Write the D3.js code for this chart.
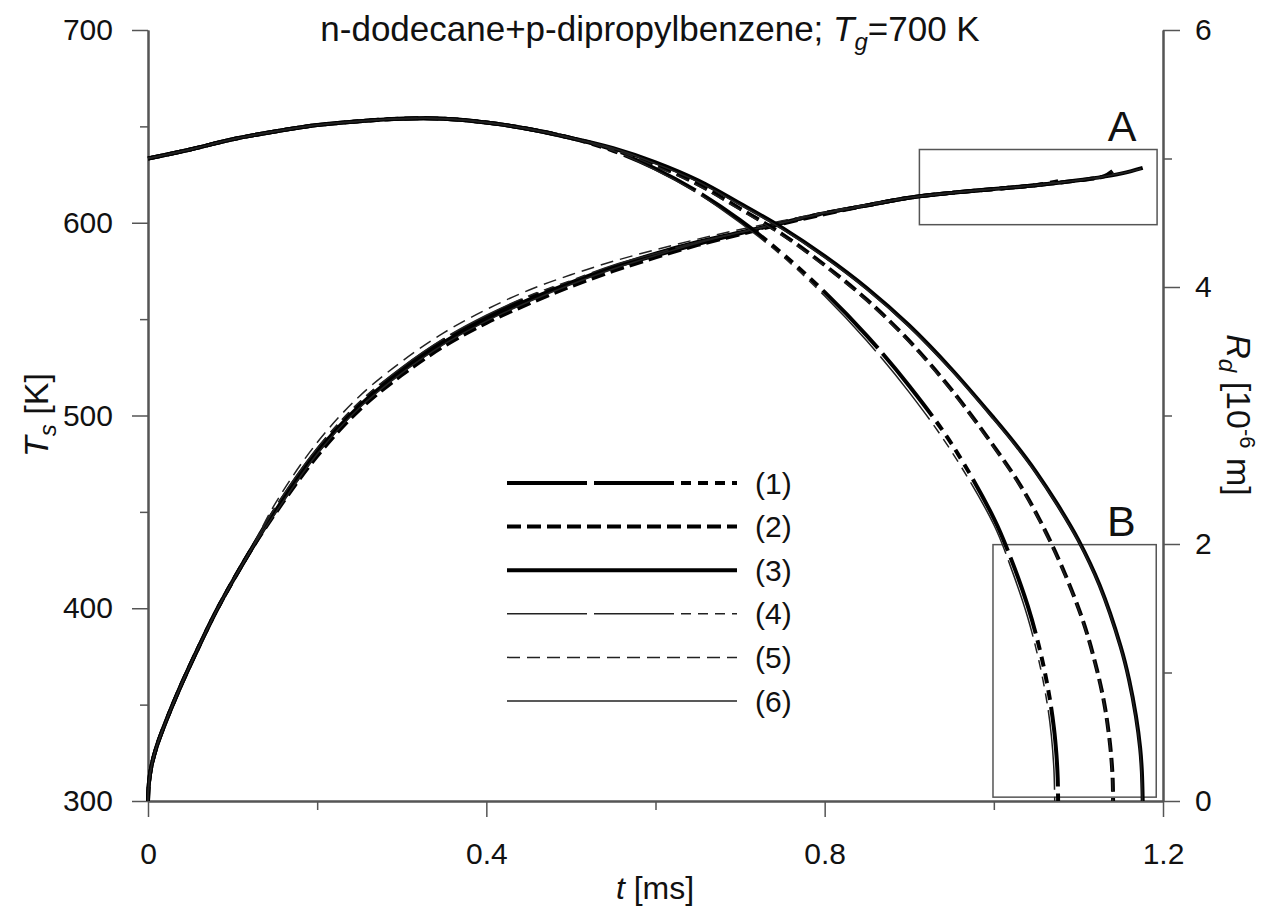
<!DOCTYPE html>
<meta charset="utf-8">
<style>
body { margin: 0; background: #fff; }
svg { font-family: "Liberation Sans", Arial, sans-serif; }
</style>
<svg width="1276" height="916"></svg>
<script src="https://d3js.org/d3.v7.min.js"></script>
<script>

// ---- data ----
// droplet radius R_d [1e-6 m] vs t [ms]; all six runs share the early part
var rHead = [[0,5.0],[0.05,5.07],[0.1,5.15],[0.15,5.21],[0.2,5.26],[0.25,5.29],[0.3,5.31],[0.35,5.31],[0.4,5.28],[0.45,5.23],[0.5,5.16]];
var rTail1 = [[0.55,5.06],[0.6,4.92],[0.65,4.74],[0.7,4.52],[0.75,4.26],[0.8,3.96],[0.85,3.62],[0.9,3.23],[0.95,2.78],[1.0,2.20],[1.02,1.89],[1.04,1.52],[1.055,1.16],[1.065,0.84],[1.071,0.57],[1.074,0.36],[1.0755,0.18],[1.076,0]];
var rTail2 = [[0.55,5.07],[0.6,4.95],[0.65,4.80],[0.7,4.61],[0.75,4.41],[0.8,4.17],[0.85,3.90],[0.9,3.58],[0.95,3.20],[1.0,2.76],[1.03,2.47],[1.054,2.19],[1.08,1.83],[1.105,1.41],[1.12,1.07],[1.13,0.78],[1.136,0.52],[1.139,0.33],[1.1405,0.17],[1.141,0]];
var rTail3 = [[0.55,5.08],[0.6,4.97],[0.65,4.83],[0.7,4.65],[0.75,4.46],[0.8,4.24],[0.85,3.99],[0.9,3.70],[0.95,3.36],[1.0,2.98],[1.025,2.78],[1.05,2.56],[1.075,2.31],[1.1,2.03],[1.125,1.68],[1.15,1.20],[1.16,0.94],[1.168,0.66],[1.173,0.41],[1.175,0.23],[1.176,0]];
var rTail4 = [[0.55,5.06],[0.6,4.91],[0.65,4.73],[0.7,4.50],[0.75,4.24],[0.8,3.93],[0.85,3.58],[0.9,3.18],[0.95,2.72],[1.0,2.15],[1.02,1.82],[1.04,1.43],[1.055,1.04],[1.064,0.72],[1.068,0.51],[1.071,0.25],[1.072,0]];
var rTail5 = [[0.55,5.07],[0.6,4.94],[0.65,4.79],[0.7,4.60],[0.75,4.40],[0.8,4.16],[0.85,3.89],[0.9,3.57],[0.95,3.19],[1.0,2.75],[1.03,2.46],[1.054,2.18],[1.08,1.82],[1.105,1.40],[1.12,1.06],[1.13,0.77],[1.136,0.50],[1.139,0.30],[1.1402,0.15],[1.1405,0]];
var rTail6 = [[0.55,5.08],[0.6,4.96],[0.65,4.82],[0.7,4.64],[0.75,4.45],[0.8,4.23],[0.85,3.98],[0.9,3.69],[0.95,3.35],[1.0,2.97],[1.025,2.77],[1.05,2.55],[1.075,2.30],[1.1,2.02],[1.125,1.67],[1.15,1.19],[1.16,0.93],[1.168,0.64],[1.173,0.38],[1.1745,0.20],[1.1755,0]];

// surface temperature T_s [K] vs t [ms]
var tHead = [[0,300],[0.001,309],[0.004,318],[0.01,328],[0.02,340],[0.04,361],[0.06,380],[0.08,398],[0.1,414],[0.12,429]];
var tTail1 = [[0.15,451],[0.2,482],[0.25,506],[0.3,524],[0.35,539],[0.4,551],[0.45,561],[0.5,569],[0.55,577],[0.6,583],[0.65,589],[0.7,594.5],[0.75,600],[0.8,605],[0.85,609],[0.9,613],[0.95,615.5],[1.0,617.5],[1.05,619.5],[1.076,621.5]];
var tTail2 = [[0.15,449],[0.2,479],[0.25,503],[0.3,521],[0.35,536],[0.4,548],[0.45,558],[0.5,567],[0.55,575],[0.6,582],[0.65,588.5],[0.7,594],[0.75,599.5],[0.8,604.5],[0.85,609],[0.9,613],[0.95,615.5],[1.0,617.5],[1.05,619.5],[1.1,622],[1.13,624],[1.141,627]];
var tTail3 = [[0.15,450],[0.2,481],[0.25,505],[0.3,523],[0.35,538],[0.4,550],[0.45,560],[0.5,569],[0.55,577],[0.6,584],[0.65,590],[0.7,595],[0.75,600],[0.8,605],[0.85,609],[0.9,613],[0.95,615.5],[1.0,617.5],[1.05,619.5],[1.1,622],[1.15,625.5],[1.176,628.5]];
var tTail4 = [[0.15,452],[0.2,483],[0.25,507],[0.3,525],[0.35,540],[0.4,552],[0.45,562],[0.5,570],[0.55,578],[0.6,584],[0.65,590],[0.7,595],[0.75,600],[0.8,605],[0.85,609],[0.9,613],[0.95,615.5],[1.0,617.5],[1.05,619.5],[1.072,621]];
var tTail5 = [[0.15,454],[0.2,486],[0.25,510],[0.3,528],[0.35,543],[0.4,555],[0.45,565],[0.5,573],[0.55,580],[0.6,586],[0.65,591.5],[0.7,596.5],[0.75,601],[0.8,605.5],[0.85,609.5],[0.9,613],[0.95,615.5],[1.0,617.5],[1.05,619.5],[1.1,622],[1.13,624],[1.139,626.5]];
var tTail6 = [[0.15,449],[0.2,480],[0.25,504],[0.3,522],[0.35,537],[0.4,549],[0.45,559],[0.5,568],[0.55,576],[0.6,583],[0.65,589.5],[0.7,595],[0.75,600],[0.8,605],[0.85,609],[0.9,613],[0.95,615.5],[1.0,617.5],[1.05,619.5],[1.1,622],[1.15,625.5],[1.174,628]];

var seriesNames = ["(1)", "(2)", "(3)", "(4)", "(5)", "(6)"];
var xTicks = [0, 0.4, 0.8, 1.2], xMinor = [0.2, 0.6, 1.0];
var tTicks = [300, 400, 500, 600, 700], tMinor = [350, 450, 550, 650];
var rTicks = [0, 2, 4, 6], rMinor = [1, 3, 5];
// zoom boxes: [t0, t1] and [T0, T1] on the left scale
var boxA = [[0.912, 1.193], [599, 638]];
var boxB = [[0.999, 1.192], [302, 433]];

// ---- chart ----
var svg = d3.select("svg");

var x = d3.scaleLinear().domain([0, 1.2]).range([148, 1163]),
    yT = d3.scaleLinear().domain([300, 700]).range([801, 30]),
    yR = d3.scaleLinear().domain([0, 6]).range([801, 30]);

var styles = [
  {w: 4, c: "#000", dash: "80,7,80,7,10,7,10,7,10,7,10,7"},
  {w: 4, c: "#000", dash: "14,6"},
  {w: 4, c: "#000", dash: null},
  {w: 1.5, c: "#222", dash: "80,7,80,7,10,7,10,7,10,7,10,7"},
  {w: 1.5, c: "#222", dash: "13,7"},
  {w: 1.5, c: "#222", dash: null}
];

var rSeries = [rTail1, rTail2, rTail3, rTail4, rTail5, rTail6].map(function(t) { return rHead.concat(t); });
var tSeries = [tTail1, tTail2, tTail3, tTail4, tTail5, tTail6].map(function(t) { return tHead.concat(t); });

var lineR = d3.line().x(function(d) { return x(d[0]); }).y(function(d) { return yR(d[1]); }).curve(d3.curveCatmullRom.alpha(0.5));
var lineT = d3.line().x(function(d) { return x(d[0]); }).y(function(d) { return yT(d[1]); }).curve(d3.curveCatmullRom.alpha(0.5));

function axisStyle(g) {
  g.selectAll(".domain").attr("stroke", "#555").attr("stroke-width", 2);
  g.selectAll(".tick line").attr("stroke", "#555").attr("stroke-width", 1.5);
  g.selectAll("text").attr("font-size", 30).attr("fill", "#111").attr("font-family", "Liberation Sans, Arial, sans-serif");
}

// minor ticks
svg.append("g").attr("transform", "translate(0,801)")
  .call(d3.axisBottom(x).tickValues(xMinor).tickSize(9).tickSizeOuter(0).tickFormat(""))
  .call(axisStyle);
svg.append("g").attr("transform", "translate(148,0)")
  .call(d3.axisLeft(yT).tickValues(tMinor).tickSize(8).tickSizeOuter(0).tickFormat(""))
  .call(axisStyle);
svg.append("g").attr("transform", "translate(1163,0)")
  .call(d3.axisRight(yR).tickValues(rMinor).tickSize(9).tickSizeOuter(0).tickFormat(""))
  .call(axisStyle);

// major axes
svg.append("g").attr("transform", "translate(0,801)")
  .call(d3.axisBottom(x).tickValues(xTicks).tickSize(16).tickSizeOuter(0).tickPadding(26)
    .tickFormat(function(d) { return d === 0 ? "0" : d3.format(".1f")(d); }))
  .call(axisStyle);
svg.append("g").attr("transform", "translate(148,0)")
  .call(d3.axisLeft(yT).tickValues(tTicks).tickSize(16).tickSizeOuter(0).tickPadding(19))
  .call(axisStyle);
svg.append("g").attr("transform", "translate(1163,0)")
  .call(d3.axisRight(yR).tickValues(rTicks).tickSize(17).tickSizeOuter(0).tickPadding(15)
    .tickFormat(d3.format("d")))
  .call(axisStyle);

// boxes A and B
[boxA, boxB].forEach(function(b, i) {
  svg.append("rect")
    .attr("x", x(b[0][0])).attr("y", yT(b[1][1]))
    .attr("width", x(b[0][1]) - x(b[0][0])).attr("height", yT(b[1][0]) - yT(b[1][1]))
    .attr("fill", "none").attr("stroke", "#555").attr("stroke-width", 1.5);
  svg.append("text")
    .attr("x", x(b[0][1]) - 35).attr("y", yT(b[1][1]) - 9)
    .attr("text-anchor", "middle").attr("font-size", 43).attr("fill", "#111")
    .text(i === 0 ? "A" : "B");
});

// curves: thick first, thin on top
function drawSet(data, line) {
  svg.append("g").selectAll("path")
    .data(data)
    .enter().append("path")
    .attr("d", line)
    .attr("fill", "none")
    .attr("stroke", function(d, i) { return styles[i].c; })
    .attr("stroke-width", function(d, i) { return styles[i].w; })
    .attr("stroke-dasharray", function(d, i) { return styles[i].dash; });
}
drawSet(tSeries, lineT);
drawSet(rSeries, lineR);

// legend
var legend = svg.append("g");
seriesNames.forEach(function(name, i) {
  var yy = 483 + i * 43.6;
  legend.append("line")
    .attr("x1", 507).attr("x2", 737).attr("y1", yy).attr("y2", yy)
    .attr("stroke", styles[i].c).attr("stroke-width", styles[i].w)
    .attr("stroke-dasharray", styles[i].dash);
  legend.append("text")
    .attr("x", 755).attr("y", yy).attr("dy", "0.35em")
    .attr("font-size", 30).attr("fill", "#111")
    .text(name);
});

// title
var title = svg.append("text").attr("x", 650).attr("y", 41)
  .attr("text-anchor", "middle").attr("font-size", 35).attr("fill", "#111");
title.append("tspan").text("n-dodecane+p-dipropylbenzene; ");
title.append("tspan").attr("font-style", "italic").text("T");
title.append("tspan").attr("font-style", "italic").attr("font-size", 24).attr("dy", 9).text("g");
title.append("tspan").attr("dy", -9).text("=700 K");

// x label
var xl = svg.append("text").attr("x", 655).attr("y", 899)
  .attr("text-anchor", "middle").attr("font-size", 32).attr("fill", "#111");
xl.append("tspan").attr("font-style", "italic").text("t");
xl.append("tspan").text(" [ms]");

// left label
var yl = svg.append("text").attr("transform", "translate(48,415) rotate(-90)")
  .attr("text-anchor", "middle").attr("font-size", 34).attr("fill", "#111");
yl.append("tspan").attr("font-style", "italic").text("T");
yl.append("tspan").attr("font-style", "italic").attr("font-size", 24).attr("dy", 8).text("s");
yl.append("tspan").attr("dy", -8).text(" [K]");

// right label
var yr = svg.append("text").attr("transform", "translate(1227,415) rotate(90)")
  .attr("text-anchor", "middle").attr("font-size", 34).attr("fill", "#111");
yr.append("tspan").attr("font-style", "italic").text("R");
yr.append("tspan").attr("font-style", "italic").attr("font-size", 24).attr("dy", 8).text("d");
yr.append("tspan").attr("dy", -8).text(" [10");
yr.append("tspan").attr("font-size", 22).attr("dy", -13).text("-6");
yr.append("tspan").attr("dy", 13).text(" m]");

</script>
